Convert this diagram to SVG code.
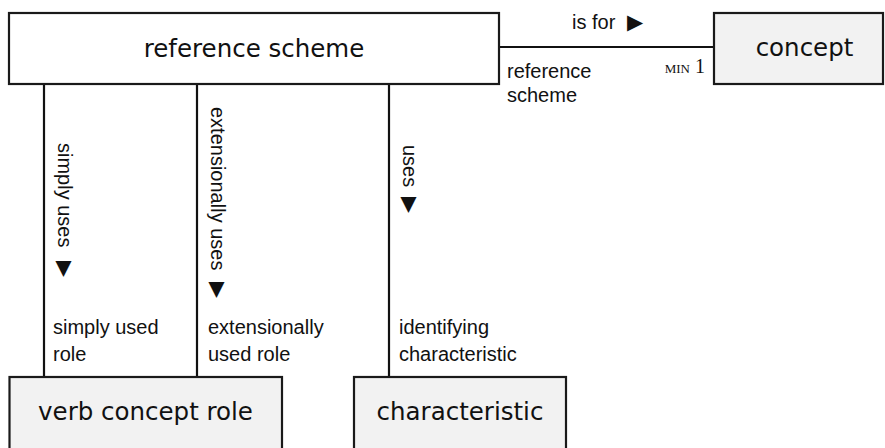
<svg xmlns="http://www.w3.org/2000/svg" width="885" height="448" viewBox="0 0 885 448">
<style>
.box{stroke:#1a1a1a;stroke-width:2.2}
.white{fill:#ffffff}
.grey{fill:#f2f2f2}
.nt{font-family:"DejaVu Sans",Verdana,sans-serif;font-size:24.5px;fill:#111}
.lb{font-family:"Liberation Sans",Arial,sans-serif;font-size:20px;fill:#111}
.tri{font-family:"DejaVu Sans",sans-serif;font-size:21px;fill:#111}
.mn{font-family:"Liberation Serif","Times New Roman",serif;fill:#111}
.ln{stroke:#111;stroke-width:2.2;fill:none}
</style>
<rect width="885" height="448" fill="#ffffff"/>
<g id="connectors">
<line class="ln" x1="499" y1="47" x2="714" y2="47"/>
<line class="ln" x1="44" y1="84" x2="44" y2="377"/>
<line class="ln" x1="197" y1="84" x2="197" y2="377"/>
<line class="ln" x1="389" y1="84" x2="389" y2="377"/>
<text class="lb" x="572" y="29">is for<tspan class="tri" x="627">▶</tspan></text>
<text class="lb" x="507" y="78">reference</text>
<text class="lb" x="507" y="102">scheme</text>
<text class="mn" x="705" y="73" text-anchor="end"><tspan font-size="13">MIN</tspan><tspan font-size="20"> 1</tspan></text>
<text class="lb" transform="translate(58,143) rotate(90)">simply uses<tspan class="tri" x="118">▶</tspan></text>
<text class="lb" transform="translate(211,107) rotate(90)">extensionally uses<tspan class="tri" x="175">▶</tspan></text>
<text class="lb" transform="translate(403,145) rotate(90)">uses<tspan class="tri" x="52">▶</tspan></text>
<text class="lb" x="53" y="334">simply used</text>
<text class="lb" x="53" y="361">role</text>
<text class="lb" x="208" y="334">extensionally</text>
<text class="lb" x="208" y="361">used role</text>
<text class="lb" x="399" y="334">identifying</text>
<text class="lb" x="399" y="361">characteristic</text>
</g>
<g id="node-reference-scheme">
<rect class="box white" x="9" y="13" width="490" height="71"/>
<text class="nt" x="254" y="57" text-anchor="middle">reference scheme</text>
</g>
<g id="node-concept">
<rect class="box grey" x="714" y="13" width="169" height="71"/>
<text class="nt" x="804.5" y="56" text-anchor="middle">concept</text>
</g>
<g id="node-verb-concept-role">
<rect class="box grey" x="9.5" y="377" width="272.5" height="90"/>
<text class="nt" x="145.5" y="420" text-anchor="middle">verb concept role</text>
</g>
<g id="node-characteristic">
<rect class="box grey" x="354" y="377" width="212" height="90"/>
<text class="nt" x="460" y="420" text-anchor="middle">characteristic</text>
</g>
</svg>
